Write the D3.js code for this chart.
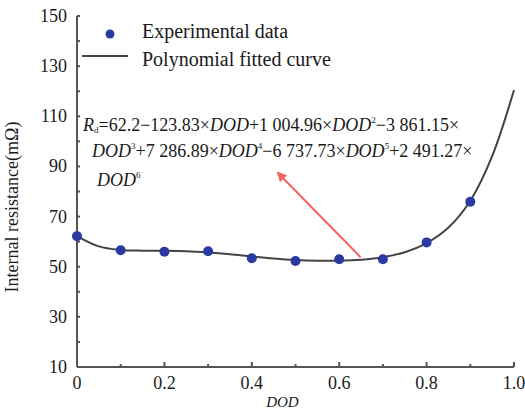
<!DOCTYPE html>
<html>
<head>
<meta charset="utf-8">
<script src="https://cdn.jsdelivr.net/npm/d3@7"></script>
</head>
<body style="margin:0">
<svg id="chart" width="525" height="411"></svg>
<script>
// measured points
const dod = [0, 0.1, 0.2, 0.3, 0.4, 0.5, 0.6, 0.7, 0.8, 0.9];
const resistance = [62.2, 56.6, 56, 56.2, 53.4, 52.3, 53, 53, 59.7, 75.9];

// fitted curve
const curveX = [0, 0.05, 0.1, 0.15, 0.2, 0.25, 0.3, 0.35, 0.4, 0.45, 0.5,
  0.55, 0.6, 0.65, 0.7, 0.75, 0.8, 0.85, 0.9, 0.95, 1.0];
const curveY = [62.2, 58.1, 56.7, 56.4, 56.4, 56.2, 55.7, 55, 54.1, 53.3, 52.7,
  52.4, 52.4, 52.8, 53.8, 55.8, 59.4, 65.6, 76.3, 94.1, 120.5];

const xTicks = [0, 0.2, 0.4, 0.6, 0.8, 1.0];
const yTicks = [10, 30, 50, 70, 90, 110, 130, 150];

const svg = d3.select("#chart");

let x = d3.scaleLinear().domain([0, 1]).range([77, 514]);
let y = d3.scaleLinear().domain([10, 150]).range([367, 16]);

const axisColor = "#555";
const textColor = "#1a1a1a";

// every text goes through here so the serif face sticks
function addText(sel) {
  return sel.append("text")
    .style("font-family", "'Liberation Serif'")
    .attr("fill", textColor);
}

// axes lines
svg.append("line")
  .attr("x1", x(0)).attr("x2", x(0))
  .attr("y1", y(10)).attr("y2", y(150))
  .attr("stroke", axisColor).attr("stroke-width", 2);
svg.append("line")
  .attr("x1", x(0)).attr("x2", x(1))
  .attr("y1", y(10)).attr("y2", y(10))
  .attr("stroke", axisColor).attr("stroke-width", 2);

// ticks, pointing inward
svg.selectAll(".ytick")
  .data(d3.range(10, 151, 10))
  .enter().append("line")
  .attr("x1", x(0)).attr("x2", x(0) + 3)
  .attr("y1", d => y(d)).attr("y2", d => y(d))
  .attr("stroke", axisColor).attr("stroke-width", 2);
svg.selectAll(".xtick")
  .data(d3.range(0, 11).map(i => i / 10))
  .enter().append("line")
  .attr("x1", d => x(d)).attr("x2", d => x(d))
  .attr("y1", y(10)).attr("y2", (d, i) => y(10) - (i % 2 == 0 ? 5 : 3))
  .attr("stroke", axisColor).attr("stroke-width", 2);

// tick labels
svg.selectAll(".ylab")
  .data(yTicks)
  .enter().append("text")
  .style("font-family", "'Liberation Serif'")
  .attr("x", 67)
  .attr("y", d => y(d) + 6)
  .attr("text-anchor", "end")
  .attr("font-size", 18)
  .attr("fill", textColor)
  .text(d => d);
svg.selectAll(".xlab")
  .data(xTicks)
  .enter().append("text")
  .style("font-family", "'Liberation Serif'")
  .attr("x", d => x(d))
  .attr("y", 389)
  .attr("text-anchor", "middle")
  .attr("font-size", 18)
  .attr("fill", textColor)
  .text(d => d == 0 ? "0" : d.toFixed(1));

// axis titles
addText(svg)
  .attr("transform", "translate(18,207) rotate(-90)")
  .attr("text-anchor", "middle")
  .attr("font-size", 18)
  .text("Internal resistance(mΩ)");
addText(svg)
  .attr("x", x(0.47))
  .attr("y", 407)
  .attr("text-anchor", "middle")
  .attr("font-size", 15)
  .attr("font-style", "italic")
  .text("DOD");

// fitted curve
let line = d3.line()
  .x((d, i) => x(curveX[i]))
  .y(d => y(d))
  .curve(d3.curveCatmullRom);
svg.append("path")
  .attr("d", line(curveY))
  .attr("fill", "none")
  .attr("stroke", "#444")
  .attr("stroke-width", 2);

// data points
svg.selectAll(".pt")
  .data(resistance)
  .enter().append("circle")
  .attr("cx", (d, i) => x(dod[i]))
  .attr("cy", d => y(d))
  .attr("r", 5)
  .attr("fill", "#2b3aa0");

// red arrow
svg.append("defs").append("marker")
  .attr("id", "head")
  .attr("viewBox", "0 0 10 10")
  .attr("refX", 8).attr("refY", 5)
  .attr("markerWidth", 5).attr("markerHeight", 5)
  .attr("orient", "auto")
  .append("path")
  .attr("d", "M0,0L10,5L0,10z")
  .attr("fill", "#f26262");
svg.append("line")
  .attr("x1", x(0.649)).attr("y1", y(53.8))
  .attr("x2", 278).attr("y2", 173)
  .attr("stroke", "#f26262")
  .attr("stroke-width", 2)
  .attr("marker-end", "url(#head)");

// legend
svg.append("circle")
  .attr("cx", 110).attr("cy", 34).attr("r", 4.5)
  .attr("fill", "#2b3aa0");
addText(svg)
  .attr("x", 142).attr("y", 38)
  .attr("font-size", 20)
  .text("Experimental data");
svg.append("line")
  .attr("x1", 82).attr("x2", 128)
  .attr("y1", 56).attr("y2", 56)
  .attr("stroke", "#444").attr("stroke-width", 2);
addText(svg)
  .attr("x", 142).attr("y", 66)
  .attr("font-size", 20)
  .text("Polynomial fitted curve");

// equation
const eqSize = 18;
function eqLine(xPos, yPos, parts) {
  let t = addText(svg)
    .attr("x", xPos).attr("y", yPos)
    .attr("font-size", eqSize);
  parts.forEach(p => {
    let s = t.append("tspan").text(p[0]);
    if (p[1] == "i") s.attr("font-style", "italic");
    if (p[1] == "sup") s.attr("font-size", 9).attr("dy", -8);
    if (p[1] == "sub") s.attr("font-size", 9).attr("dy", 2);
    if (p[1] == "back") s.attr("dy", 8);
    if (p[1] == "up") s.attr("dy", -2);
  });
}
eqLine(83, 131, [["R", "i"], ["d", "sub"], ["=62.2−123.83×", "up"], ["DOD", "i"],
  ["+1 004.96×", ""], ["DOD", "i"], ["2", "sup"], ["−3 861.15×", "back"]]);
eqLine(92, 157, [["DOD", "i"], ["3", "sup"], ["+7 286.89×", "back"], ["DOD", "i"],
  ["4", "sup"], ["−6 737.73×", "back"], ["DOD", "i"], ["5", "sup"],
  ["+2 491.27×", "back"]]);
eqLine(97, 186, [["DOD", "i"], ["6", "sup"]]);
</script>
</body>
</html>
